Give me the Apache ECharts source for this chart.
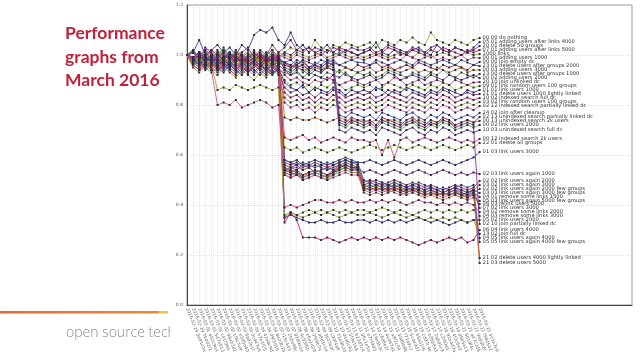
<!DOCTYPE html>
<html><head><meta charset="utf-8">
<script src="https://cdn.jsdelivr.net/npm/echarts@6/dist/echarts.min.js"></script>
<style>html,body{margin:0;padding:0;background:#fff}#c{width:640px;height:360px}</style>
</head><body><div id="c"></div>
<script>
// ---- data ----
const categories = ["2016-02-29 3e91c0a","2016-02-29 7b4d2f1","2016-03-01 a02c9e4","2016-03-01 5d7e813","2016-03-01 c41f06b","2016-03-02 98ab3d2","2016-03-02 1f6c7e9","2016-03-02 e3d5a40","2016-03-03 6a92b1f","2016-03-03 0cd47e8","2016-03-03 b7e1f25","2016-03-04 42a8c9d","2016-03-04 d9f3016","2016-03-04 8e20b7a","2016-03-07 f15c4d3","2016-03-07 2b6e98c","2016-03-07 97d0a1e","2016-03-08 4c83f6b","2016-03-08 e6a1d29","2016-03-08 0f59b74","2016-03-09 a8d3c1e","2016-03-09 3b27e0f","2016-03-09 c90f4a6","2016-03-10 71e8b2d","2016-03-10 d4a6c93","2016-03-10 5f0e1b8","2016-03-11 b23d7c4","2016-03-11 86c1e5a","2016-03-11 e7f49d0","2016-03-14 19a5b3c","2016-03-14 c6d8e2f","2016-03-14 4e0b7a1","2016-03-15 a9f2c64","2016-03-15 30d6e8b","2016-03-15 f71a9c2","2016-03-16 5c4e0d7","2016-03-16 b8a31f6","2016-03-16 2d97c4e","2016-03-17 e05b8a3","2016-03-17 7a6d1c9","2016-03-17 c3f80e5","2016-03-18 91b4d7a","2016-03-18 4f2c6e0","2016-03-18 d8e5a13","2016-03-21 6b19f4c","2016-03-21 a47c2d8","2016-03-21 0e83b6f","2016-03-22 f96d5a2","2016-03-22 3c0a7e9"];
const yTickLabels = ["0.0","0.2","0.4","0.6","0.8","1.0","1.2"];
const seriesNames = [
"00 00 do nothing","05 01 adding users after links 4000","20 01 delete 50 groups","07 01 adding users after links 5000","1000 links","00 01 adding users 1000","00 00 join empty dc","23 01 delete users after groups 2000","00 03 adding users 3000","23 00 delete users after groups 1000","00 02 adding users 2000","20 10 join unlinked dc","09 01 link random users 100 groups","01 01 link users 1000","21 01 delete users 1000 lightly linked","10 02 indexed search full dc","03 02 link random users 100 groups","02 12 indexed search partially linked dc",
"24 02 join after cleanup","02 13 unindexed search partially linked dc","00 13 unindexed search 2k users","00 02 link users 2000","10 03 unindexed search full dc","00 12 indexed search 2k users","22 01 delete all groups","01 03 link users 3000",
"02 03 link users again 1000","02 02 link users again 2000","03 02 link users again 3000","02 02 link users again 2000 few groups","03 03 link users again 3000 few groups","04 01 remove some links 1500","05 03 link users again 5000 few groups","06 03 relink users 5000","07 02 link users 3000","04 02 remove some links 2000","04 03 remove some links 3000","05 02 link users 2000","02 10 join partially linked dc","06 04 link users 4000","13 02 join full dc","04 05 link users again 4000","05 05 link users again 4000 few groups",
"21 02 delete users 4000 lightly linked","21 03 delete users 5000"];

// values in percent of baseline (1.0 = 100)
const vA01=[100,99,101,98,100,102,99,97,100,101,98,100,99,101,100,98, 101,103,102,104,101,106,103,102,104,103,105,104,103, 104,105,103,106,105,104,106,105,107,105,104,109,106,105,104,106,105,104,106, 106.8];
const vA02=[100,101,106,100,102,104,101,103,100,104,102,108,110,109,111,106, 104,109,104,102,103,101,102,104,101,100,102,101,100, 101,102,105,101,100,102,101,100,102,103,101,100,104,102,101,103,102,101,103, 105.2];
const vA03=[100,102,99,103,101,98,102,100,97,101,103,99,102,100,104,101, 103,106,102,104,101,103,102,101,103,102,101,103,102, 102,103,101,102,104,103,102,101,103,102,101,103,104,102,101,103,102,101,102, 103.6];
const vA04=[100,98,101,99,102,100,97,99,101,100,98,101,99,100,102,99, 101,100,102,101,103,101,100,102,101,103,102,101,100, 101,102,100,101,103,102,100,101,102,101,100,102,101,103,102,101,100,102,101, 102];
const vA05=[100,97,99,101,98,100,102,99,98,100,101,99,97,100,99,101, 100,99,101,100,99,100,101,99,100,101,100,99,100, 99,100,101,100,99,100,101,100,99,101,100,99,100,101,100,99,100,101,100, 100.4];
const vA06=[100,99,97,100,101,99,98,100,97,99,101,98,100,99,97,100, 99,98,100,99,98,99,100,98,99,100,99,98,99, 98,99,100,99,98,99,98,100,99,98,99,100,98,99,98,99,100,98,99, 98.8];
const vA07=[100,98,100,97,99,101,98,96,99,100,97,99,98,96,99,98, 97,98,96,98,97,96,98,97,98,96,97,98,97, 97,96,98,97,96,97,98,97,96,98,97,96,97,98,97,96,98,97,96, 97.2];
const vA08=[100,102,98,101,99,97,100,98,101,99,96,98,100,97,99,98, 97,95,96,98,95,96,94,95,97,96,95,94,96, 95,96,97,95,96,94,95,96,95,97,96,95,94,96,95,96,95,94,96, 95.6];
const vA09=[100,97,99,96,98,100,97,95,98,96,99,97,95,98,96,97, 95,94,96,93,95,94,93,95,94,93,95,94,93, 94,95,93,94,95,94,93,94,95,93,94,93,95,94,93,94,95,93,94, 94];
const vA10=[100,96,94,95,93,95,97,94,96,95,93,96,94,95,93,94, 93,92,94,91,93,92,91,93,92,94,92,91,93, 92,93,91,92,94,93,92,91,93,92,91,93,92,94,92,91,93,92,91, 92.4];
const vA11=[100,101,99,97,100,98,96,99,97,95,98,96,99,97,95,96, 94,92,93,91,90,92,91,90,92,91,93,91,90, 91,92,90,91,93,92,90,91,92,91,90,92,91,90,92,91,90,91,92, 90.8];
const vA12=[100,99,96,98,95,97,99,96,94,97,95,98,96,94,97,95, 92,90,91,89,88,90,89,91,90,88,89,90,89, 88,89,90,88,89,91,90,88,89,90,88,89,90,89,88,90,89,88,89, 89.2];
const vA13=[100,98,95,97,94,96,98,95,93,96,94,97,95,93,96,94, 90,88,89,87,88,86,88,87,89,88,86,87,88, 87,88,86,87,89,88,87,86,88,87,86,88,87,89,88,86,87,88,87, 87.6];
const vA14=[100,97,99,95,97,95,93,96,94,92,95,93,96,94,92,95, 89,87,86,88,85,87,86,85,87,86,84,86,85, 86,85,87,86,84,86,85,87,86,85,84,86,85,87,86,85,84,86,85, 86];
const vA15=[100,96,98,94,96,99,95,97,94,96,93,95,97,94,96,93, 87,85,86,84,85,83,85,84,86,85,83,84,85, 84,85,83,84,86,85,84,83,85,84,83,85,84,86,85,83,84,85,84, 84.4];
const vA16=[100,98,96,99,97,94,96,98,95,97,94,96,98,95,93,96, 85,83,84,82,83,81,83,82,84,83,81,82,83, 82,83,81,82,84,83,82,81,83,82,81,83,82,84,83,81,82,83,82, 82.8];
const vA17=[100,95,93,96,94,92,95,93,91,94,92,90,93,91,94,92, 83,81,82,80,81,79,81,80,82,81,79,80,81, 80,81,79,80,82,81,80,79,81,80,79,81,80,82,81,79,80,81,80, 81.2];
const vA18=[100,97,95,98,96,94,97,95,93,96,94,92,95,93,96,94, 81,79,80,78,79,77,79,78,80,79,77,78,79, 78,79,77,78,80,79,78,77,79,78,77,79,78,80,79,77,78,79,78, 79.6];
const vB01=[100,99,101,98,100,97,99,101,98,100,99,97,100,98,101,99, 97,96,98,97,95,97,96,98,97, 76,75,77,76, 75,76,74,77,76,75,74,76,77,75,74,76,75,77,76,74,75,76,75, 76.8];
const vB02=[100,98,100,97,99,101,98,96,99,100,97,99,98,96,99,97, 96,95,97,96,94,96,95,97,96, 74,73,75,74, 73,74,72,75,74,73,72,74,75,73,72,74,73,75,74,72,73,74,73, 75.2];
const vB03=[100,101,99,102,100,98,101,99,102,100,98,101,99,100,102,99, 75,74,75,74,74,75,74,73,74,75,74,73,74, 74,73,74,73,74,74,73,72,73,74,73,72,73,74,73,72,73,74,73, 73.6];
const vB04=[100,102,99,101,98,100,103,99,101,98,100,102,99,101,100,98, 95,94,96,95,93,95,94,96,95, 72,71,73,72, 71,72,70,73,72,71,70,72,73,71,70,72,71,73,72,70,71,72,71, 72];
const vB05=[100,98,101,99,97,100,98,101,99,97,100,98,96,99,97,100, 94,93,95,94,92,94,93,95,94, 70,69,71,70, 69,70,68,71,70,69,68,70,71,69,68,70,69,71,70,68,69,70,69, 70];
const vB06=[100,97,99,96,98,95,97,99,96,98,95,97,99,96,98,97, 67,66,67,68,66,67,65,66,67,66,65,67,66, 66,65,66,60,66,59,66,67,65,66,67,66,65,66,67,66,65,66,65, 66.4];
const vB07=[100,99,97,100,98,96,99,97,100,98,96,99,97,95,98,96, 63,62,63,61,62,63,62,61,62,63,62,61,62, 63,64,63,62,63,64,63,62,63,64,63,62,63,64,63,62,63,64,63, 64.8];
const vB08=[100,98,96,99,97,95,98,96,99,97,95,98,96,94,97,95, 58,57,58,56,57,58,57,56,57,58,59,58,57, 57,58,57,56,57,58,57,56,57,58,57,56,57,58,57,56,57,58,59, 61.2];
const vC01=[100,97,99,96,98,100,97,95,98,96,99,97,95,98,96,97, 56,55,56,54,55,56,55,54,55,56,55,54,55, 53,54,53,52,53,54,53,52,53,54,53,52,53,54,53,52,53,52,53, 52.4];
const vC02=[100,99,101,98,100,97,99,101,98,100,97,99,101,98,100,99, 57,56,57,55,56,57,56,55,56,57,58,57,56, 49,50,49,48,49,50,49,48,49,48,47,48,47,46,47,48,47,46,47, 49.6];
const vC03=[100,98,100,97,99,101,98,96,99,100,97,99,98,96,99,97, 56,55,55,54,55,56,55,54,56,57,58,57,56, 48,49,48,47,48,49,48,47,48,47,46,47,46,45,46,47,46,45,46, 48];
const vC04=[100,101,99,102,100,98,101,99,97,100,98,101,99,97,100,98, 54,53,52,51,53,52,51,52,54,55,56,55,54, 47,48,47,46,47,48,47,46,47,46,45,46,45,44,45,46,45,44,45, 46.4];
const vC05=[100,98,96,99,97,100,98,96,99,97,95,98,96,99,97,95, 55,54,53,52,53,54,53,52,53,55,56,55,55, 48,47,48,47,48,47,46,47,48,47,46,47,46,45,46,47,45,44,46, 44.8];
const vC06=[100,97,99,96,98,95,97,99,96,98,95,97,95,98,96,97, 53,52,53,51,52,53,52,51,53,54,55,54,54, 47,46,47,46,47,46,45,46,47,46,45,46,45,44,45,46,44,43,45, 43.2];
const vC07=[100,96,98,95,97,94,96,98,95,97,94,96,98,95,97,94, 52,51,52,50,51,52,51,50,52,53,54,53,53, 45,44,45,44,45,46,45,44,45,44,43,44,43,42,43,44,43,42,43, 41.6];
const vC08=[100,99,97,100,98,96,99,97,100,98,96,99,97,100,98,96, 55,53,52,51,52,53,52,51,52,54,55,54,54, 47,48,47,48,47,48,47,46,47,46,45,46,44,45,44,45,44,43,44, 40.4];
const vC09=[100,101,98,100,97,99,101,98,100,97,99,101,98,100,97,99, 54,55,54,56,55,53,54,55,54,56,57,56,55, 48,49,48,49,48,47,48,47,46,47,46,47,46,45,46,47,46,45,46, 38.8];
const vC10=[100,98,100,97,99,96,98,100,97,99,96,98,100,97,99,98, 39,40,39,40,41,42,42,41,41,42,41,42,41, 41,42,41,42,41,42,41,40,41,42,41,41,40,41,40,41,40,41,40, 37.2];
const vC11=[100,97,99,96,98,100,97,99,96,98,100,97,99,96,98,97, 36,37,36,37,38,37,38,37,38,37,38,37,38, 38,37,38,39,38,37,38,37,36,37,38,37,38,37,38,37,38,37,38, 35.6];
const vC12=[100,98,96,99,97,100,98,96,99,97,100,98,96,99,97,98, 35,36,35,34,33,33,34,33,33,34,33,33,34, 34,33,34,33,34,33,34,33,34,35,34,33,34,33,32,33,34,33,34, 34];
const vC13=[100,99,101,98,100,97,99,101,98,100,97,99,101,98,100,98, 97,96,95,96,94,96,95,97,96, 73,72,74,73, 72,73,71,74,73,72,71,73,74,72,71,73,72,74,73,71,72,73,72, 32.4];
const vC14=[100,96,94,97,95,93,96,94,92,95,93,96,94,92,95,93, 33,37,34,27,27,27,26,27,26,25,26,27,26, 27,26,27,26,27,26,27,26,25,24,25,26,25,26,27,26,27,25,26, 30];
const vC15=[100,98,99,97,96,86,87,86,88,87,86,87,88,87,86,87, 35,37,36,35,36,37,36,37,36,35,36,37,36, 36,37,36,35,36,37,36,35,36,35,34,35,34,35,34,35,34,33,34, 28.4];
const vC16=[100,97,95,96,94,80,81,80,82,79,80,81,82,81,79,80, 52,51,52,50,51,52,51,50,51,52,53,52,52, 46,45,46,45,46,45,44,45,46,45,44,45,44,43,44,45,44,43,44, 26.8];
const vC17=[100,99,97,95,98,96,94,97,95,93,96,94,92,95,93,94, 58,57,56,57,56,55,56,57,56,57,58,57,57, 50,49,50,49,48,49,48,47,48,49,48,47,46,47,46,47,48,47,48, 25.2];
const vD01=[100,98,100,97,99,96,98,100,97,99,96,98,100,97,99,97, 54,53,54,52,53,54,53,52,53,55,56,55,55, 46,47,46,47,46,47,46,45,46,45,44,45,44,45,44,45,44,45,46, 18.8];
const vD02=[100,97,99,96,98,95,97,99,96,98,95,97,99,96,98,96, 53,54,53,52,53,54,53,52,54,55,57,56,55, 47,46,47,46,45,46,47,46,45,46,45,44,45,44,45,44,43,44,45, 16.8];

const seriesValues=[vA01,vA02,vA03,vA04,vA05,vA06,vA07,vA08,vA09,vA10,vA11,vA12,vA13,vA14,vA15,vA16,vA17,vA18,
 vB01,vB02,vB03,vB04,vB05,vB06,vB07,vB08,
 vC01,vC02,vC03,vC04,vC05,vC06,vC07,vC08,vC09,vC10,vC11,vC12,vC13,vC14,vC15,vC16,vC17,vD01,vD02];

seriesValues.forEach((v,k)=>{ if(v.length!==categories.length) throw new Error('len '+seriesNames[k]+' '+v.length); });

// ---- chart ----
const palette=['#8dc63f','#3a3a96','#8b2f8b','#c8175a','#a7a33a','#d9559b','#4b5bc4','#9c2233','#c47a2c','#5da84a','#6d3a9c','#e0457b'];
const xCats = categories.concat(new Array(25).fill(''));
const nData = categories.length;

const chart = echarts.init(document.getElementById('c'), null, {renderer:'canvas'});
chart.setOption({
  animation:false,
  backgroundColor:'#fff',
  textStyle:{fontFamily:'DejaVu Sans'},
  grid:{left:187,right:8,top:5,bottom:55,show:true,borderColor:'#999',borderWidth:1,backgroundColor:'transparent'},
  xAxis:{type:'category',data:xCats,boundaryGap:false,
    axisLine:{lineStyle:{color:'#444',width:1}},axisTick:{show:false},
    axisLabel:{interval:0,rotate:-68,fontSize:4.5,color:'#666',margin:3,fontFamily:'DejaVu Sans'},
    splitLine:{show:true,interval:(i)=>i<nData,lineStyle:{color:'#d4d4d4',type:[1,1],width:0.6}}},
  yAxis:{type:'value',min:0,max:120,interval:20,
    axisLine:{show:true,lineStyle:{color:'#444',width:1}},axisTick:{show:false},
    axisLabel:{formatter:(v)=>yTickLabels[Math.round(v/20)],fontSize:4.5,color:'#555',margin:4,fontFamily:'DejaVu Sans'},
    splitLine:{lineStyle:{color:'#cfcfcf',type:[1,1],width:0.6}}},
  series: seriesNames.map((n,k)=>({
    type:'line',name:n,data:seriesValues[k],
    symbol:'rect',symbolSize:2,showAllSymbol:true,
    lineStyle:{width:0.9,color:palette[k%palette.length]},
    itemStyle:{color:'#2c2c44'},
    endLabel:{show:true,formatter:'{a}',fontSize:5.2,color:'#333',distance:3,fontFamily:'DejaVu Sans'},
    emphasis:{disabled:true},silent:true
  })),
  graphic:{elements:[
    {type:'text',z:-20,x:66,y:333,style:{text:'open source tech',fill:'#8c8c8c',fontSize:14,fontFamily:'Open Sans',fontWeight:300,verticalAlign:'middle'}},
    {type:'rect',z:-10,shape:{x:170,y:0,width:470,height:360},style:{fill:'#fff'}},
    {type:'rect',z:-10,shape:{x:0,y:311,width:168,height:2.5},style:{fill:new echarts.graphic.LinearGradient(0,0,1,0,[{offset:0,color:'#e4663a'},{offset:0.94,color:'#ea8a3a'},{offset:0.95,color:'#f0c442'},{offset:1,color:'#f0c442'}])}},
    {type:'text',z:100,x:65,y:22,style:{text:'Performance\ngraphs from\nMarch 2016',fill:'#c0223b',fontSize:17.5,fontWeight:'bold',fontFamily:'Lato',lineHeight:23.5}}
  ]}
});
</script></body></html>
